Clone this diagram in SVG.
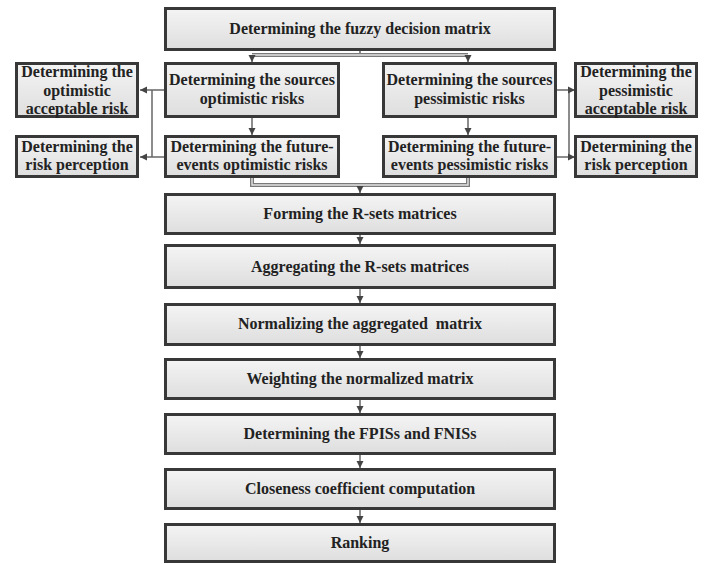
<svg xmlns="http://www.w3.org/2000/svg" width="707" height="564" viewBox="0 0 707 564">
<defs>
<linearGradient id="g" x1="0" y1="0" x2="0" y2="1">
<stop offset="0" stop-color="#f4f4f4"/>
<stop offset="1" stop-color="#dedede"/>
</linearGradient>
<marker id="ah" markerWidth="8" markerHeight="8" refX="7" refY="4" orient="auto" markerUnits="userSpaceOnUse">
<path d="M0,0.5 L7,4 L0,7.5 Z" fill="#444"/>
</marker>
</defs>
<style>
.box{fill:url(#g);stroke:#383838;stroke-width:3}
.t{font-family:"Liberation Serif","Times New Roman",serif;font-weight:bold;font-size:16px;fill:#222;text-anchor:middle}
.c{fill:none;stroke:#666;stroke-width:1.5}
.a{fill:none;stroke:#666;stroke-width:1.5;marker-end:url(#ah)}
.dbl{fill:none;stroke:#7a7a7a;stroke-width:4}
.dbi{fill:none;stroke:#e4e4e4;stroke-width:1.4}
</style>
<rect width="707" height="564" fill="#fff"/>
<g id="connectors">
<line class="c" x1="360" y1="51" x2="360" y2="55"/>
<polyline class="dbl" points="252,55 468,55"/>
<polyline class="dbi" points="252,55 468,55"/>
<line class="a" x1="252" y1="55" x2="252" y2="62"/>
<line class="a" x1="468" y1="55" x2="468" y2="62"/>
<line class="a" x1="252" y1="118" x2="252" y2="135"/>
<line class="a" x1="468" y1="118" x2="468" y2="135"/>
<line class="c" x1="152" y1="90" x2="152" y2="157"/>
<line class="a" x1="164" y1="90" x2="140" y2="90"/>
<line class="a" x1="164" y1="157" x2="140" y2="157"/>
<line class="c" x1="569" y1="90" x2="569" y2="157"/>
<line class="a" x1="557" y1="90" x2="575" y2="90"/>
<line class="a" x1="557" y1="157" x2="575" y2="157"/>
<polyline class="dbl" points="252,178 252,185 468,185 468,178"/>
<polyline class="dbi" points="252,178 252,185 468,185 468,178"/>
<line class="a" x1="360" y1="186" x2="360" y2="193"/>
<line class="a" x1="360" y1="235" x2="360" y2="244"/>
<line class="a" x1="360" y1="289" x2="360" y2="303"/>
<line class="a" x1="360" y1="346" x2="360" y2="358"/>
<line class="a" x1="360" y1="400" x2="360" y2="413"/>
<line class="a" x1="360" y1="455" x2="360" y2="468"/>
<line class="a" x1="360" y1="510" x2="360" y2="523"/>
</g>
<g id="fuzzy"><rect class="box" x="165.5" y="8.5" width="389" height="41"/><text class="t" x="360" y="34">Determining the fuzzy decision matrix</text></g>
<g id="src-opt"><rect class="box" x="165.5" y="63.5" width="173" height="53"/><text class="t" x="252" y="85">Determining the sources</text><text class="t" x="252" y="104">optimistic risks</text></g>
<g id="fut-opt"><rect class="box" x="165.5" y="136.5" width="173" height="40"/><text class="t" x="252" y="152">Determining the future-</text><text class="t" x="252" y="170">events optimistic risks</text></g>
<g id="acc-opt"><rect class="box" x="16.5" y="63.5" width="121" height="53"/><text class="t" x="77" y="77">Determining the</text><text class="t" x="77" y="96">optimistic</text><text class="t" x="77" y="114">acceptable risk</text></g>
<g id="perc-opt"><rect class="box" x="16.5" y="136.5" width="121" height="40"/><text class="t" x="77" y="152">Determining the</text><text class="t" x="77" y="170">risk perception</text></g>
<g id="src-pes"><rect class="box" x="383.5" y="63.5" width="172" height="53"/><text class="t" x="469.5" y="85">Determining the sources</text><text class="t" x="469.5" y="104">pessimistic risks</text></g>
<g id="fut-pes"><rect class="box" x="383.5" y="136.5" width="172" height="40"/><text class="t" x="469.5" y="152">Determining the future-</text><text class="t" x="469.5" y="170">events pessimistic risks</text></g>
<g id="acc-pes"><rect class="box" x="575.5" y="63.5" width="121" height="53"/><text class="t" x="636" y="77">Determining the</text><text class="t" x="636" y="96">pessimistic</text><text class="t" x="636" y="114">acceptable risk</text></g>
<g id="perc-pes"><rect class="box" x="575.5" y="136.5" width="121" height="40"/><text class="t" x="636" y="152">Determining the</text><text class="t" x="636" y="170">risk perception</text></g>
<g id="forming"><rect class="box" x="165.5" y="194.5" width="389" height="39"/><text class="t" x="360" y="219">Forming the R-sets matrices</text></g>
<g id="aggregating"><rect class="box" x="165.5" y="245.5" width="389" height="42"/><text class="t" x="360" y="272">Aggregating the R-sets matrices</text></g>
<g id="normalizing"><rect class="box" x="165.5" y="304.5" width="389" height="40"/><text class="t" x="360" y="329">Normalizing the aggregated&#160; matrix</text></g>
<g id="weighting"><rect class="box" x="165.5" y="359.5" width="389" height="39"/><text class="t" x="360" y="384">Weighting the normalized matrix</text></g>
<g id="fpis"><rect class="box" x="165.5" y="414.5" width="389" height="39"/><text class="t" x="360" y="439">Determining the FPISs and FNISs</text></g>
<g id="closeness"><rect class="box" x="165.5" y="469.5" width="389" height="39"/><text class="t" x="360" y="494">Closeness coefficient computation</text></g>
<g id="ranking"><rect class="box" x="165.5" y="524.5" width="389" height="37"/><text class="t" x="360" y="548">Ranking</text></g>
</svg>
